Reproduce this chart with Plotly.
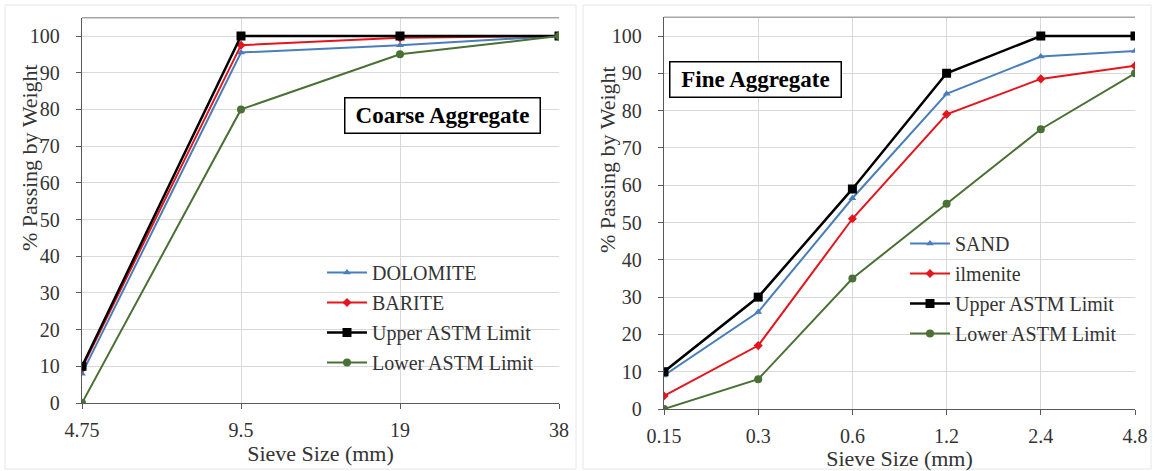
import math
import plotly.graph_objects as go

# ---------------- data ----------------
coarse_sizes = [4.75, 9.5, 19, 38]
coarse_labels = ["4.75", "9.5", "19", "38"]
dolomite = [8, 95.5, 97.5, 100]
barite = [9.5, 97.5, 99.5, 100]
coarse_upper = [10, 100, 100, 100]
coarse_lower = [0, 80, 95, 100]

fine_sizes = [0.15, 0.3, 0.6, 1.2, 2.4, 4.8]
fine_labels = ["0.15", "0.3", "0.6", "1.2", "2.4", "4.8"]
sand = [9, 26, 56.5, 84.5, 94.5, 96]
ilmenite = [3.5, 17, 51, 79, 88.5, 92]
fine_upper = [10, 30, 59, 90, 100, 100]
fine_lower = [0, 8, 35, 55, 75, 90]

y_ticks = list(range(0, 101, 10))

# ---------------- styles ----------------
W, H = 1154, 471
FONT = "'Liberation Serif', 'Times New Roman', 'DejaVu Serif', serif"
TXT = "#333333"
BLUE = "#4a7ebb"
RED = "#e3151d"
BLACK = "#000000"
GREEN = "#4b7035"
GRID = "#d9d9d9"
AXIS = "#595959"

fig = go.Figure()

def add(x, y, name, color, symbol, size, xa, ya, legend, group, width):
    fig.add_trace(go.Scatter(
        x=x, y=y, name=name, mode="lines+markers",
        line=dict(color=color, width=width),
        marker=dict(symbol=symbol, size=size, color=color),
        xaxis=xa, yaxis=ya, legend=legend, legendgroup=group,
    ))

add(coarse_sizes, dolomite, "DOLOMITE", BLUE, "triangle-up", 7, "x", "y", "legend", "c1", 2)
add(coarse_sizes, barite, "BARITE", RED, "diamond", 7, "x", "y", "legend", "c2", 2)
add(coarse_sizes, coarse_upper, "Upper ASTM Limit", BLACK, "square", 9, "x", "y", "legend", "c3", 2.5)
add(coarse_sizes, coarse_lower, "Lower ASTM Limit", GREEN, "circle", 8, "x", "y", "legend", "c4", 2)

add(fine_sizes, sand, "SAND", BLUE, "triangle-up", 7, "x2", "y2", "legend2", "f1", 2)
add(fine_sizes, ilmenite, "ilmenite", RED, "diamond", 7, "x2", "y2", "legend2", "f2", 2)
add(fine_sizes, fine_upper, "Upper ASTM Limit", BLACK, "square", 9, "x2", "y2", "legend2", "f3", 2.5)
add(fine_sizes, fine_lower, "Lower ASTM Limit", GREEN, "circle", 8, "x2", "y2", "legend2", "f4", 2)

def px_x(p):
    return p / W

def px_y(p):
    return 1 - p / H

tickfont = dict(family=FONT, size=20, color=TXT)
titlefont = dict(family=FONT, size=22, color=TXT)

xcommon = dict(type="log", showgrid=True, gridcolor=GRID, gridwidth=1,
               showline=True, linecolor=AXIS, linewidth=1.3, mirror=False,
               tickfont=tickfont, ticks="outside", ticklen=5, tickcolor=AXIS,
               zeroline=False, ticklabelstandoff=4, automargin=False)
ycommon = dict(range=[0, 105], tickvals=y_ticks, showgrid=True, gridcolor=GRID,
               gridwidth=1, showline=True, linecolor=AXIS, linewidth=1.3,
               mirror=False, tickfont=tickfont, ticks="outside", ticklen=5,
               tickcolor=AXIS, zeroline=False, ticklabelstandoff=12,
               automargin=False)

legendcommon = dict(font=dict(family=FONT, size=20, color=TXT),
                    bgcolor="rgba(255,255,255,0)", traceorder="grouped",
                    tracegroupgap=1, itemwidth=40, xanchor="left", yanchor="top")

fig.update_layout(
    width=W, height=H, margin=dict(l=0, r=0, t=0, b=0, autoexpand=False),
    paper_bgcolor="white", plot_bgcolor="white", showlegend=True,
    xaxis=dict(**xcommon, domain=[px_x(82), px_x(559)],
               range=[math.log10(coarse_sizes[0]), math.log10(coarse_sizes[-1])],
               tickvals=coarse_sizes, ticktext=coarse_labels,
               title=dict(text="Sieve Size (mm)", font=titlefont, standoff=2)),
    yaxis=dict(**ycommon, domain=[px_y(403), px_y(403 - 105 * 3.67)], anchor="x"),
    xaxis2=dict(**xcommon, domain=[px_x(664), px_x(1135)], anchor="y2",
                range=[math.log10(fine_sizes[0]), math.log10(fine_sizes[-1])],
                tickvals=fine_sizes, ticktext=fine_labels,
                title=dict(text="Sieve Size (mm)", font=titlefont, standoff=2)),
    yaxis2=dict(**ycommon, domain=[px_y(409), px_y(409 - 105 * 3.73)], anchor="x2"),
    legend=dict(**legendcommon, x=px_x(322), y=px_y(253)),
    legend2=dict(**legendcommon, x=px_x(905), y=px_y(224)),
    annotations=[
        dict(text="% Passing by Weight", xref="paper", yref="paper",
             x=px_x(30), y=px_y(158), textangle=-90, showarrow=False,
             xanchor="center", yanchor="middle", font=titlefont),
        dict(text="% Passing by Weight", xref="paper", yref="paper",
             x=px_x(608), y=px_y(160), textangle=-90, showarrow=False,
             xanchor="center", yanchor="middle", font=titlefont),
        dict(text="<b>Coarse Aggregate</b>", xref="paper", yref="paper",
             x=px_x(442), y=px_y(116), showarrow=False,
             xanchor="center", yanchor="middle",
             font=dict(family=FONT, size=23, color="black"),
             width=190, height=30, borderpad=2,
             bordercolor="black", borderwidth=1.5, bgcolor="white"),
        dict(text="<b>Fine Aggregate</b>", xref="paper", yref="paper",
             x=px_x(755), y=px_y(80), showarrow=False,
             xanchor="center", yanchor="middle",
             font=dict(family=FONT, size=23, color="black"),
             width=166, height=30, borderpad=2,
             bordercolor="black", borderwidth=1.5, bgcolor="white"),
    ],
    shapes=[
        dict(type="rect", xref="paper", yref="paper", x0=px_x(5), x1=px_x(576),
             y0=px_y(469), y1=px_y(5), line=dict(color="#e6e6e6", width=1)),
        dict(type="rect", xref="paper", yref="paper", x0=px_x(583), x1=px_x(1151),
             y0=px_y(469), y1=px_y(5), line=dict(color="#e6e6e6", width=1)),
        dict(type="line", xref="x domain", yref="y domain", x0=0, x1=1, y0=1, y1=1,
             line=dict(color="#a6a6a6", width=1.5)),
        dict(type="line", xref="x2 domain", yref="y2 domain", x0=0, x1=1, y0=1, y1=1,
             line=dict(color="#a6a6a6", width=1.5)),
    ],
)

fig.write_html("out.html")
